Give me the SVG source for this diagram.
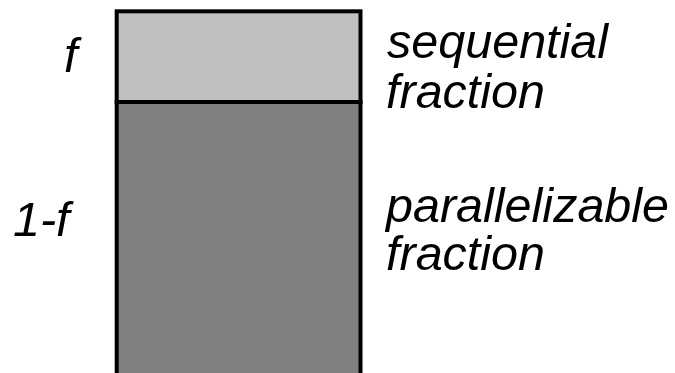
<svg xmlns="http://www.w3.org/2000/svg" width="675" height="373" viewBox="0 0 675 373">
<style>
.t{font-family:"Liberation Sans",Arial,sans-serif;font-style:italic;font-size:48.5px;fill:#000}
.bar{stroke:#000;stroke-width:4}
</style>
<rect width="675" height="373" fill="#fff"/>
<g id="sequential">
<rect class="bar" x="116.7" y="11.3" width="243.8" height="90.7" fill="#c0c0c0"/>
</g>
<g id="parallel">
<rect class="bar" x="116.7" y="102" width="243.8" height="300" fill="#808080"/>
</g>
<g id="labels">
<text class="t" x="64" y="72">f</text>
<text class="t" x="13" y="236">1-f</text>
<text class="t" x="387" y="58">sequential</text>
<text class="t" x="386" y="108">fraction</text>
<text class="t" x="386" y="222">parallelizable</text>
<text class="t" x="386" y="270">fraction</text>
</g>
</svg>
